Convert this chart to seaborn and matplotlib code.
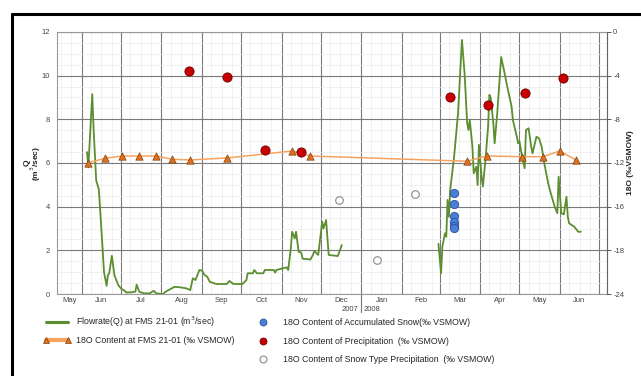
import numpy as np
import pandas as pd
import matplotlib
matplotlib.use('Agg')
import matplotlib.pyplot as plt
import matplotlib.dates as mdates
import matplotlib.transforms as mtransforms
from matplotlib.lines import Line2D
from matplotlib.ticker import MultipleLocator
import seaborn as sns

# flowrate Q (m3/sec), 2007 part
flow07_dates = ['2007-06-05', '2007-06-06', '2007-06-09', '2007-06-10', '2007-06-12', '2007-06-14',
                '2007-06-15', '2007-06-17', '2007-06-18', '2007-06-20', '2007-06-21', '2007-06-22',
                '2007-06-24', '2007-06-25', '2007-06-26', '2007-06-29', '2007-07-01', '2007-07-04',
                '2007-07-05', '2007-07-09', '2007-07-12', '2007-07-13', '2007-07-15', '2007-07-19',
                '2007-07-23', '2007-07-26', '2007-07-28', '2007-08-02', '2007-08-04', '2007-08-07',
                '2007-08-11', '2007-08-15', '2007-08-20', '2007-08-23', '2007-08-25', '2007-08-27',
                '2007-08-28', '2007-08-30', '2007-09-01', '2007-09-03', '2007-09-05', '2007-09-07',
                '2007-09-12', '2007-09-20', '2007-09-22', '2007-09-25', '2007-10-02', '2007-10-05',
                '2007-10-06', '2007-10-10', '2007-10-11', '2007-10-13', '2007-10-18', '2007-10-19',
                '2007-10-26', '2007-10-27', '2007-10-28', '2007-11-02', '2007-11-05', '2007-11-06',
                '2007-11-08', '2007-11-09', '2007-11-11', '2007-11-12', '2007-11-14', '2007-11-16',
                '2007-11-17', '2007-11-23', '2007-11-25', '2007-11-26', '2007-11-29', '2007-12-02',
                '2007-12-03', '2007-12-05', '2007-12-07', '2007-12-14', '2007-12-17']
flow07_q = [6.5, 5.8, 9.15, 7.6, 5.2, 4.8,
            3.9, 2.0, 1.0, 0.38, 0.87, 0.95,
            1.75, 1.3, 0.85, 0.4, 0.25, 0.14,
            0.07, 0.08, 0.11, 0.43, 0.1, 0.03,
            0.03, 0.15, 0.03, 0.0, 0.1, 0.2,
            0.33, 0.31, 0.26, 0.18, 0.72, 0.64,
            0.79, 1.1, 1.07, 0.87, 0.79, 0.56,
            0.46, 0.46, 0.6, 0.46, 0.46, 0.64,
            0.95, 0.95, 1.1, 0.95, 0.95, 1.1,
            1.1, 0.98, 1.1, 1.18, 1.22, 1.1,
            2.1, 2.85, 2.55, 2.85, 1.94, 1.9,
            1.62, 1.58, 1.8, 1.97, 1.79, 3.31,
            3.0, 3.39, 1.79, 1.74, 2.24]

# flowrate Q (m3/sec), 2008 part
flow08_dates = ['2008-02-29', '2008-03-02', '2008-03-03', '2008-03-05', '2008-03-06', '2008-03-07',
                '2008-03-08', '2008-03-09', '2008-03-12', '2008-03-15', '2008-03-18', '2008-03-20',
                '2008-03-22', '2008-03-23', '2008-03-24', '2008-03-26', '2008-03-27', '2008-03-29',
                '2008-03-30', '2008-03-31', '2008-04-02', '2008-04-03', '2008-04-05', '2008-04-07',
                '2008-04-08', '2008-04-09', '2008-04-11', '2008-04-12', '2008-04-14', '2008-04-17',
                '2008-04-19', '2008-04-22', '2008-04-25', '2008-04-26', '2008-04-29', '2008-04-30',
                '2008-05-01', '2008-05-03', '2008-05-05', '2008-05-06', '2008-05-08', '2008-05-10',
                '2008-05-11', '2008-05-14', '2008-05-16', '2008-05-18', '2008-05-20', '2008-05-23',
                '2008-05-25', '2008-05-28', '2008-05-30', '2008-05-31', '2008-06-02', '2008-06-04',
                '2008-06-06', '2008-06-07', '2008-06-08', '2008-06-12', '2008-06-15', '2008-06-17']
flow08_q = [2.3, 0.95, 2.17, 2.78, 2.62, 4.31,
            3.54, 4.76, 6.29, 8.28, 11.63, 10.11,
            7.82, 7.51, 7.97, 6.75, 5.53, 5.83,
            4.99, 6.83, 5.37, 4.92, 6.14, 7.66,
            9.12, 9.0, 7.82, 6.9, 8.28, 10.85,
            10.3, 9.4, 8.58, 7.97, 7.2, 6.9,
            7.0, 6.29, 5.76, 7.51, 7.59, 6.75,
            6.44, 7.2, 7.13, 6.75, 5.99, 5.07,
            4.61, 4.0, 3.7, 5.37, 3.7, 3.65,
            4.46, 3.54, 3.24, 3.08, 2.85, 2.85]

# 18O at FMS 21-01 (permil VSMOW)
fms_dates = ['2007-06-06', '2007-06-19', '2007-07-02', '2007-07-15', '2007-07-28', '2007-08-09',
             '2007-08-23', '2007-09-20', '2007-11-09', '2007-11-23', '2008-03-22', '2008-04-06',
             '2008-05-03', '2008-05-19', '2008-06-01', '2008-06-13']
fms_o18 = [-11.98, -11.56, -11.36, -11.36, -11.36, -11.66,
           -11.72, -11.54, -10.9, -11.36, -11.84, -11.36,
           -11.42, -11.42, -10.9, -11.72]

# 18O of precipitation
rain_dates = ['2007-08-22', '2007-09-20', '2007-10-19', '2007-11-16',
              '2008-03-09', '2008-04-07', '2008-05-05', '2008-06-03']
rain_o18 = [-3.54, -4.15, -10.8, -10.96, -5.92, -6.68, -5.61, -4.18]

# 18O of accumulated snow
snow_dates = ['2008-03-12'] * 6
snow_o18 = [-14.78, -15.76, -16.86, -17.44, -17.74, -17.98]

# 18O of snow type precipitation
snowp_dates = ['2007-12-15', '2008-01-13', '2008-02-11']
snowp_o18 = [-15.39, -20.9, -14.84]

right_ticks = [-24, -20, -16, -12, -8, -4, 0]
right_labels = ['-24', '-18', '-16', '-12', '-8', '-4', '0']
month_names = ['May', 'Jun', 'Jul', 'Aug', 'Sep', 'Oct', 'Nov', 'Dec',
               'Jan', 'Feb', 'Mar', 'Apr', 'May', 'Jun']

green = '#5b8e2f'
orange = '#f6a360'

sns.set_style('white')
plt.rcParams['font.family'] = ['Liberation Sans', 'DejaVu Sans']

fig = plt.figure(figsize=(6.41, 3.76), dpi=100)
ax = fig.add_axes([0.0889, 0.218, 0.858, 0.697])

df07 = pd.DataFrame({'date': pd.to_datetime(flow07_dates), 'q': flow07_q})
df08 = pd.DataFrame({'date': pd.to_datetime(flow08_dates), 'q': flow08_q})
sns.lineplot(data=df07, x='date', y='q', ax=ax, color=green, lw=1.3, zorder=3)
sns.lineplot(data=df08, x='date', y='q', ax=ax, color=green, lw=1.3, zorder=3)

xmin, xmax = pd.Timestamp('2007-05-13'), pd.Timestamp('2008-07-07')
ax.set_xlim(xmin, xmax)
ax.set_ylim(0, 12)
ax.yaxis.set_major_locator(MultipleLocator(2))
ax.yaxis.set_minor_locator(MultipleLocator(0.5))
ax.xaxis.set_major_locator(mdates.MonthLocator())
ax.xaxis.set_minor_locator(mdates.DayLocator(bymonthday=[8, 16, 24]))
ax.xaxis.set_major_formatter(plt.NullFormatter())
ax.grid(which='major', color='#7a7a7a', lw=0.8)
ax.grid(which='minor', color='#ebebeb', lw=0.5)
ax.set_axisbelow(True)
ax.tick_params(axis='both', which='both', length=0, labelsize=5.5, labelcolor='#444')
ax.tick_params(axis='y', pad=5)
ax.set_xlabel('')
ax.set_ylabel('Q\n(m$^3$/sec)', fontsize=6, fontweight='bold', linespacing=0.8)
ax.yaxis.set_label_coords(-0.026, 0.5)
for s in ax.spines.values():
    s.set_color('#999')
    s.set_linewidth(0.8)

# month labels centred in the visible part of each month
trans = mtransforms.blended_transform_factory(ax.transData, ax.transAxes)
starts = pd.date_range('2007-05-01', periods=len(month_names), freq='MS')
for name, m in zip(month_names, starts):
    a = max(m, xmin)
    b = min(m + pd.offsets.MonthBegin(1), xmax)
    ax.text(a + (b - a) / 2, -0.01, name, transform=trans, ha='center', va='top',
            fontsize=5.5, color='#444')
jan1 = pd.Timestamp('2008-01-01')
ax.plot([jan1, jan1], [0, -0.07], transform=trans, color='#777', lw=0.8, clip_on=False)
ax.text(jan1 - pd.Timedelta(days=2), -0.046, '2007', transform=trans, ha='right', va='top',
        fontsize=5.5, color='#444')
ax.text(jan1 + pd.Timedelta(days=2), -0.046, '2008', transform=trans, ha='left', va='top',
        fontsize=5.5, color='#444')

# right axis: 18O
ax2 = ax.twinx()
ax2.set_ylim(-24, 0)
ax2.set_yticks(right_ticks)
ax2.set_yticklabels(right_labels)
ax2.tick_params(axis='y', length=3, width=0.7, color='#555', labelsize=5.5, labelcolor='#444', pad=1.5)
ax2.grid(False)
for s in ax2.spines.values():
    s.set_visible(False)
ax2.spines['right'].set_visible(True)
ax2.spines['right'].set_color('#666')
ax2.spines['right'].set_linewidth(0.8)
ax2.set_ylabel('18O (‰VSMOW)', fontsize=6, fontweight='bold', labelpad=2)

dfo = pd.DataFrame({'date': pd.to_datetime(fms_dates), 'o18': fms_o18})
sns.lineplot(data=dfo, x='date', y='o18', ax=ax2, color=orange, lw=1.1, zorder=2)
sns.scatterplot(data=dfo, x='date', y='o18', ax=ax2, marker='^', s=28, color='#e0701f',
                edgecolor='#7a4410', linewidth=0.5, zorder=4)
sns.scatterplot(x=pd.to_datetime(rain_dates), y=rain_o18, ax=ax2, s=44, color='#c80000',
                edgecolor='#6a0000', linewidth=0.6, zorder=5)
sns.scatterplot(x=pd.to_datetime(snow_dates), y=snow_o18, ax=ax2, s=36, color='#4a7dd4',
                edgecolor='#2b54a0', linewidth=0.6, zorder=5)
sns.scatterplot(x=pd.to_datetime(snowp_dates), y=snowp_o18, ax=ax2, s=30, color='white',
                edgecolor='#8a8a8a', linewidth=0.8, zorder=5)
ax2.set_xlim(xmin, xmax)
ax2.set_xlabel('')

# legends
h1 = [Line2D([], [], color=green, lw=2.2),
      Line2D([], [], color=orange, lw=3, marker='^', ms=5, mfc='#e0701f', mec='#7a4410', mew=0.5)]
l1 = ['Flowrate(Q) at FMS 21-01 (m$^3$/sec)', '18O Content at FMS 21-01 (‰ VSMOW)']
leg1 = fig.legend(h1, l1, loc='upper left', bbox_to_anchor=(0.068, 0.164), frameon=False,
                  fontsize=6.3, numpoints=2, handlelength=3.1, handletextpad=0.6,
                  labelspacing=0.8, borderpad=0, borderaxespad=0)
h2 = [Line2D([], [], ls='', marker='o', ms=5, mfc='#4a7dd4', mec='#2b54a0', mew=0.6),
      Line2D([], [], ls='', marker='o', ms=5, mfc='#c80000', mec='#6a0000', mew=0.6),
      Line2D([], [], ls='', marker='o', ms=5, mfc='white', mec='#8a8a8a', mew=0.8)]
l2 = ['18O Content of Accumulated Snow(‰ VSMOW)', '18O Content of Precipitation  (‰ VSMOW)',
      '18O Content of Snow Type Precipitation  (‰ VSMOW)']
leg2 = fig.legend(h2, l2, loc='upper left', bbox_to_anchor=(0.403, 0.153), frameon=False,
                  fontsize=6.3, numpoints=1, handlelength=1.0, handletextpad=1.8,
                  labelspacing=1.05, borderpad=0, borderaxespad=0)

# frame around the figure
fig.add_artist(Line2D([0.0187, 1.0], [0.963, 0.963], transform=fig.transFigure, color='black', lw=2.2))
fig.add_artist(Line2D([0.0187, 0.0187], [0.0, 0.963], transform=fig.transFigure, color='black', lw=2.2))

fig.savefig('out.png', dpi=100)
